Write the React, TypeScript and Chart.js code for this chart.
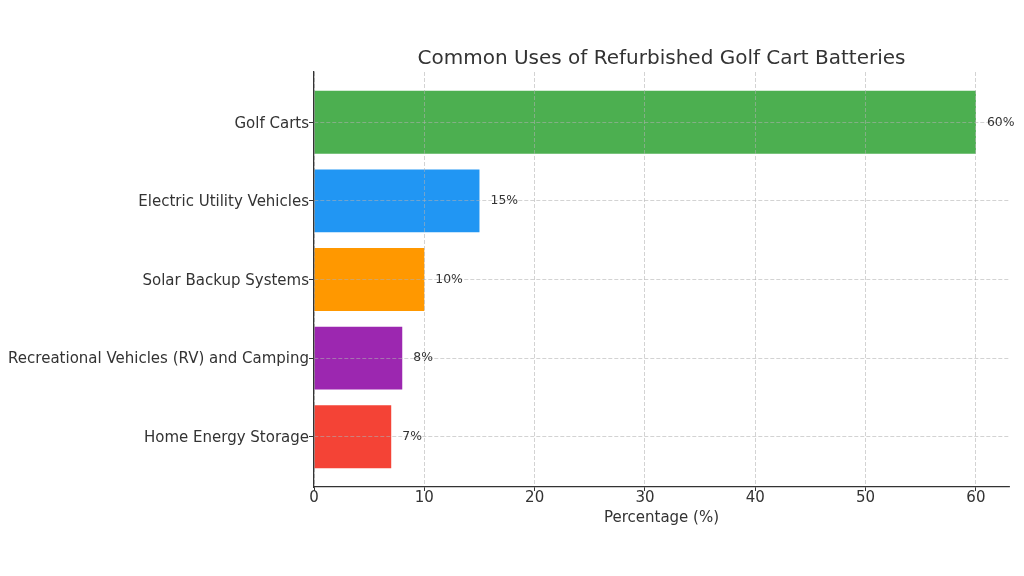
import React, { useEffect, useRef } from "react";
import { Chart, registerables } from "chart.js";

Chart.register(...registerables);

const categories = [
  "Golf Carts",
  "Electric Utility Vehicles",
  "Solar Backup Systems",
  "Recreational Vehicles (RV) and Camping",
  "Home Energy Storage",
];
const percentages = [60, 15, 10, 8, 7];
const barColors = ["#4CAF50", "#2196F3", "#FF9800", "#9C27B0", "#F44336"];
const xTickValues = [0, 10, 20, 30, 40, 50, 60];
const chartTitle = "Common Uses of Refurbished Golf Cart Batteries";
const xAxisTitle = "Percentage (%)";

const FONT = "'DejaVu Sans', sans-serif";
const TEXT = "#333333";
const GRID = "rgba(176,176,176,0.7)";

const valueLabels = {
  id: "valueLabels",
  afterDraw(chart: any) {
    const ctx = chart.ctx;
    const meta = chart.getDatasetMeta(0);
    const xs = chart.scales.x;
    ctx.save();
    ctx.font = `12.4px ${FONT}`;
    ctx.fillStyle = TEXT;
    ctx.textAlign = "left";
    ctx.textBaseline = "middle";
    meta.data.forEach((bar: any, i: number) => {
      const v = percentages[i];
      ctx.fillText(`${v}%`, xs.getPixelForValue(v + 1), bar.y);
    });
    ctx.restore();
  },
};

export default function App() {
  const ref = useRef<HTMLCanvasElement>(null);
  useEffect(() => {
    if (!ref.current) return;
    const chart = new Chart(ref.current, {
      type: "bar",
      data: {
        datasets: [
          {
            data: categories.map((c, i) => ({ x: percentages[i], y: i })) as any,
            backgroundColor: barColors,
            borderWidth: 0,
            barPercentage: 0.8,
            categoryPercentage: 1,
          },
        ],
      },
      options: {
        animation: false,
        responsive: false,
        indexAxis: "y",
        layout: { padding: { left: 0, right: 15, top: 0, bottom: 0 } },
        plugins: {
          legend: { display: false },
          tooltip: { enabled: false },
          title: {
            display: true,
            text: chartTitle,
            fullSize: false,
            color: TEXT,
            font: { family: FONT, size: 20, weight: "normal", lineHeight: 1.2 },
            padding: { top: 47, bottom: 1 },
          },
        },
        scales: {
          x: {
            type: "linear",
            position: "bottom",
            min: 0,
            max: 63,
            offset: false,
            afterBuildTicks: (s: any) => {
              s.ticks = xTickValues.map((v) => ({ value: v }));
            },
            afterFit: (s: any) => {
              s.height = 89;
            },
            ticks: {
              color: TEXT,
              font: { family: FONT, size: 15, lineHeight: 1 },
              padding: 0,
            },
            grid: {
              offset: false,
              color: GRID,
              lineWidth: 0.8,
              tickColor: TEXT,
              tickLength: 4,
              tickWidth: 1,
              z: 1,
            } as any,
            border: { display: true, color: TEXT, width: 1.3, dash: [4, 2], z: 1 } as any,
            title: {
              display: true,
              text: xAxisTitle,
              color: TEXT,
              font: { family: FONT, size: 15, lineHeight: 1.2 },
              padding: { top: 0, bottom: 49 },
            },
          },
          y: {
            type: "linear",
            position: "left",
            reverse: true,
            min: -0.64,
            max: 4.64,
            offset: false,
            afterBuildTicks: (s: any) => {
              s.ticks = categories.map((c, i) => ({ value: i }));
            },
            afterFit: (s: any) => {
              s.width = 314;
            },
            ticks: {
              color: TEXT,
              font: { family: FONT, size: 15, lineHeight: 1 },
              padding: 0,
              labelOffset: 1.5,
              callback: (v: any) => categories[v as number] ?? "",
            },
            grid: {
              offset: false,
              color: GRID,
              lineWidth: 0.8,
              tickColor: TEXT,
              tickLength: 5,
              tickWidth: 1,
              z: 1,
            } as any,
            border: { display: true, color: TEXT, width: 1.3, dash: [4, 2], z: 1 } as any,
          },
        },
      },
      plugins: [valueLabels],
    } as any);
    return () => chart.destroy();
  }, []);
  return (
    <div style={{ position: "fixed", left: 0, top: 0, width: 1024, height: 576, background: "#fff" }}>
      <canvas ref={ref} width={1024} height={576} style={{ display: "block" }} />
    </div>
  );
}
